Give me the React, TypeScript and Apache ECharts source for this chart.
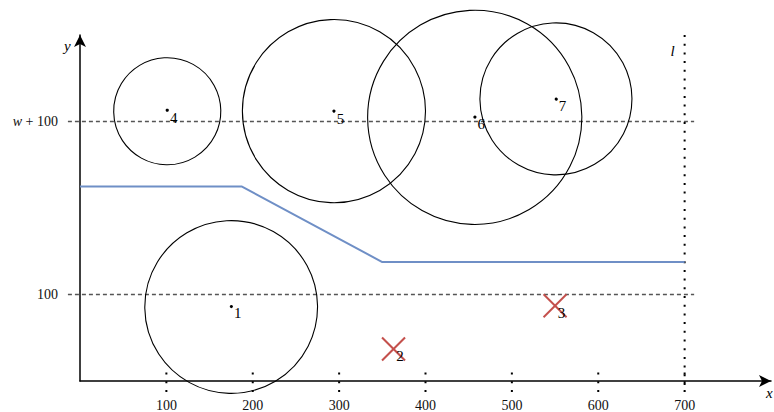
import React, { useEffect, useRef } from "react";
import * as echarts from "echarts";

// Sites (index label, position, circle radius; crossed ones have no circle)
const siteIds = ["1", "2", "3", "4", "5", "6", "7"];
const siteX = [175, 363, 550, 101, 294, 457, 551];
const siteY = [87, 37, 87, 313, 312, 306, 327];
const siteRadius = [100, 0, 0, 62, 106, 124, 88];
const siteCrossed = [false, true, true, false, false, false, false];

// Blue path
const pathX = [0, 187, 350, 700];
const pathY = [225, 225, 137.5, 137.5];

// Horizontal dashed reference lines
const hLineY = [100, 300];
const hLineFrom = -14;
const hLineTo = 711;

// x ticks
const xTicks = [100, 200, 300, 400, 500, 600, 700];

// vertical line l
const lineLX = 700;

const SERIF = "Liberation Serif";

export default function App() {
  const ref = useRef<HTMLDivElement>(null);
  useEffect(() => {
    document.body.style.margin = "0";
    const chart = echarts.init(ref.current!, null, { renderer: "svg" });
    const circles = siteIds.map((id, i) => [siteX[i], siteY[i], siteRadius[i], siteCrossed[i] ? 1 : 0, id]);
    const option: any = {
      animation: false,
      backgroundColor: "#fff",
      textStyle: { fontFamily: SERIF, fontSize: 14, color: "#111" },
      grid: { left: 80, right: 2, top: 35, bottom: 31, containLabel: false },
      xAxis: {
        type: "value",
        min: 0,
        max: 800,
        interval: 100,
        splitLine: { show: false },
        axisTick: { show: false },
        axisLine: {
          onZero: false,
          symbol: ["none", "arrow"],
          symbolSize: [9, 12],
          lineStyle: { color: "#000", width: 1.5 },
        },
        axisLabel: {
          margin: 17,
          color: "#111",
          fontFamily: SERIF,
          fontSize: 14,
          formatter: (v: number) => (v >= 100 && v <= 700 ? String(v) : ""),
        },
      },
      yAxis: {
        type: "value",
        min: 0,
        max: 400,
        interval: 100,
        splitLine: { show: false },
        axisTick: { show: false },
        axisLine: {
          onZero: false,
          symbol: ["none", "arrow"],
          symbolSize: [9, 12],
          lineStyle: { color: "#000", width: 1.5 },
        },
        axisLabel: {
          margin: 22,
          color: "#111",
          fontFamily: SERIF,
          fontSize: 14,
          formatter: (v: number) => (v === 100 ? "{n|100}" : v === 300 ? "{i|w}{n| + 100}" : ""),
          rich: {
            i: { fontStyle: "italic", fontFamily: SERIF, fontSize: 14, color: "#111" },
            n: { fontFamily: SERIF, fontSize: 14, color: "#111" },
          },
        },
      },
      graphic: [
        { type: "text", left: 64, top: 38, style: { text: "y", font: `italic 15px ${SERIF}`, fill: "#000" } },
        { type: "text", left: 766, top: 385, style: { text: "x", font: `italic 15px ${SERIF}`, fill: "#000" } },
      ],
      series: [
        {
          type: "custom",
          name: "hlines",
          data: hLineY.map((y) => [y]),
          clip: false,
          renderItem: (params: any, api: any) => {
            const y = api.value(0);
            const a = api.coord([hLineFrom, y]);
            const b = api.coord([hLineTo, y]);
            return {
              type: "line",
              shape: { x1: a[0], y1: a[1], x2: b[0], y2: b[1] },
              style: { stroke: "#555", lineWidth: 1.3, lineDash: [4, 3] },
            };
          },
        },
        {
          type: "custom",
          name: "ticks",
          data: xTicks.map((x) => [x]),
          clip: false,
          renderItem: (params: any, api: any) => {
            const c = api.coord([api.value(0), 0]);
            return {
              type: "line",
              shape: { x1: c[0], y1: c[1] - 8.5, x2: c[0], y2: c[1] + 11 },
              style: { stroke: "#000", lineWidth: 2, lineDash: [2, 6.8] },
            };
          },
        },
        {
          type: "custom",
          name: "l",
          data: [[lineLX]],
          clip: false,
          renderItem: (params: any, api: any) => {
            const top = api.coord([api.value(0), 400]);
            const bot = api.coord([api.value(0), 0]);
            return {
              type: "group",
              children: [
                {
                  type: "line",
                  shape: { x1: top[0], y1: top[1], x2: bot[0], y2: bot[1] + 11 },
                  style: { stroke: "#000", lineWidth: 2, lineDash: [2, 6.7] },
                },
                {
                  type: "text",
                  style: {
                    text: "l",
                    x: top[0] - 12,
                    y: top[1] + 16,
                    font: `italic 15px ${SERIF}`,
                    fill: "#000",
                    align: "center",
                    verticalAlign: "middle",
                  },
                },
              ],
            };
          },
        },
        {
          type: "line",
          data: pathX.map((x, i) => [x, pathY[i]]),
          symbol: "none",
          lineStyle: { color: "#6f8fc6", width: 2 },
          z: 3,
        },
        {
          type: "custom",
          name: "sites",
          data: circles,
          clip: false,
          z: 4,
          renderItem: (params: any, api: any) => {
            const c = api.coord([api.value(0), api.value(1)]);
            const r = api.size([api.value(2), 0])[0];
            const crossed = api.value(3) === 1;
            const id = siteIds[params.dataIndex];
            const children: any[] = [];
            if (crossed) {
              const h = 11.5;
              children.push(
                { type: "line", shape: { x1: c[0] - h, y1: c[1] - h, x2: c[0] + h, y2: c[1] + h }, style: { stroke: "#c4504c", lineWidth: 2 } },
                { type: "line", shape: { x1: c[0] - h, y1: c[1] + h, x2: c[0] + h, y2: c[1] - h }, style: { stroke: "#c4504c", lineWidth: 2 } }
              );
            } else {
              children.push(
                { type: "circle", shape: { cx: c[0], cy: c[1], r }, style: { fill: "none", stroke: "#000", lineWidth: 1.1 } },
                { type: "circle", shape: { cx: c[0], cy: c[1], r: 1.6 }, style: { fill: "#000" } }
              );
            }
            children.push({
              type: "text",
              style: {
                text: id,
                x: c[0] + 6.5,
                y: c[1] + 7.5,
                font: `15px ${SERIF}`,
                fill: "#000",
                align: "center",
                verticalAlign: "middle",
              },
            });
            return { type: "group", children };
          },
        },
      ],
    };
    chart.setOption(option);
    return () => chart.dispose();
  }, []);
  return <div ref={ref} style={{ width: 774, height: 412 }} />;
}
